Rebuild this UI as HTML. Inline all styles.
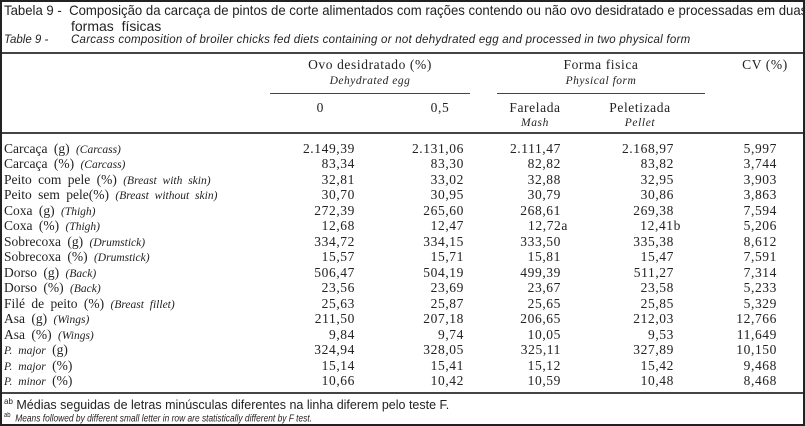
<!DOCTYPE html>
<html><head><meta charset="utf-8">
<style>
html,body{margin:0;padding:0;}
body{width:805px;height:426px;background:#fff;position:relative;overflow:hidden;}
.frame{position:absolute;left:0;top:0;width:801px;height:422px;border:2px solid #222;}
.t{position:absolute;white-space:nowrap;color:#222;}
.sans{font-family:"Liberation Sans",sans-serif;}
.ser{font-family:"Liberation Serif",serif;}
.rule{position:absolute;background:#444;}
.lab{font-family:"Liberation Serif",serif;font-size:13.5px;left:4px;word-spacing:3px;}
.lab i{font-size:11.5px;}
.num{font-family:"Liberation Serif",serif;font-size:13.5px;letter-spacing:0.6px;text-align:right;}
</style></head>
<body>
<div class="frame"></div>
<div class="t sans" style="left:4px;top:2px;font-size:14px;transform:scaleX(0.94);transform-origin:left">Tabela 9 -&nbsp; Composição da carcaça de pintos de corte alimentados com rações contendo ou não ovo desidratado e processadas em duas</div>
<div class="t sans" style="left:71px;top:18px;font-size:14px">formas&nbsp; físicas</div>
<div class="t sans" style="left:4px;top:34px;font-size:11.5px;font-style:italic">Table 9 -</div>
<div class="t sans" style="left:71px;top:34px;font-size:11.5px;font-style:italic;letter-spacing:0.25px">Carcass composition of broiler chicks fed diets containing or not dehydrated egg and processed in two physical form</div>
<div class="rule" style="left:2px;top:52px;width:801px;height:2px"></div>
<div class="t ser" style="left:270px;width:200px;text-align:center;top:57px;font-size:13.5px;letter-spacing:0.6px">Ovo desidratado (%)</div>
<div class="t ser" style="left:270px;width:200px;text-align:center;top:75px;font-size:11.5px;font-style:italic;letter-spacing:0.5px">Dehydrated egg</div>
<div class="rule" style="left:270px;top:93px;width:200px;height:1px"></div>
<div class="t ser" style="left:497px;width:208px;text-align:center;top:57px;font-size:13.5px;letter-spacing:0.6px">Forma fisica</div>
<div class="t ser" style="left:497px;width:208px;text-align:center;top:75px;font-size:11.5px;font-style:italic;letter-spacing:0.5px">Physical form</div>
<div class="rule" style="left:497px;top:93px;width:208px;height:1px"></div>
<div class="t ser" style="left:730px;width:70px;text-align:center;top:57px;font-size:13.5px;letter-spacing:0.6px">CV (%)</div>
<div class="t ser" style="left:290px;width:60px;text-align:center;top:100px;font-size:13.5px">0</div>
<div class="t ser" style="left:410px;width:60px;text-align:center;top:100px;font-size:13.5px;letter-spacing:0.6px">0,5</div>
<div class="t ser" style="left:495px;width:80px;text-align:center;top:100px;font-size:13.5px;letter-spacing:0.6px">Farelada</div>
<div class="t ser" style="left:495px;width:80px;text-align:center;top:117px;font-size:11.5px;font-style:italic;letter-spacing:0.6px">Mash</div>
<div class="t ser" style="left:595px;width:90px;text-align:center;top:100px;font-size:13.5px;letter-spacing:0.6px">Peletizada</div>
<div class="t ser" style="left:595px;width:90px;text-align:center;top:117px;font-size:11.5px;font-style:italic;letter-spacing:0.6px">Pellet</div>
<div class="rule" style="left:2px;top:132px;width:801px;height:2px"></div>
<div id="rows"></div>
<div class="rule" style="left:2px;top:392px;width:801px;height:2px"></div>
<div class="t sans" style="left:4px;top:397px;font-size:12.5px"><sup style="font-size:8px">ab</sup> Médias seguidas de letras minúsculas diferentes na linha diferem pelo teste F.</div>
<div class="t sans" style="left:4px;top:412px;font-size:10px;font-style:italic;transform:scaleX(0.84);transform-origin:left"><sup style="font-size:7px;font-style:normal">ab</sup>&nbsp; Means followed by different small letter in row are statistically different by F test.</div>
<script>
var labels=['Carcaça (g) <i>(Carcass)</i>','Carcaça (%) <i>(Carcass)</i>','Peito com pele (%) <i>(Breast with skin)</i>','Peito sem pele(%) <i>(Breast without skin)</i>','Coxa (g) <i>(Thigh)</i>','Coxa (%) <i>(Thigh)</i>','Sobrecoxa (g) <i>(Drumstick)</i>','Sobrecoxa (%) <i>(Drumstick)</i>','Dorso (g) <i>(Back)</i>','Dorso (%) <i>(Back)</i>','Filé de peito (%) <i>(Breast fillet)</i>','Asa (g) <i>(Wings)</i>','Asa (%) <i>(Wings)</i>','<i>P. major</i> (g)','<i>P. major</i> (%)','<i>P. minor</i> (%)'];
var egg0=['2.149,39','83,34','32,81','30,70','272,39','12,68','334,72','15,57','506,47','23,56','25,63','211,50','9,84','324,94','15,14','10,66'];
var egg05=['2.131,06','83,30','33,02','30,95','265,60','12,47','334,15','15,71','504,19','23,69','25,87','207,18','9,74','328,05','15,41','10,42'];
var mash=['2.111,47','82,82','32,88','30,79','268,61','12,72a','333,50','15,81','499,39','23,67','25,65','206,65','10,05','325,11','15,12','10,59'];
var pellet=['2.168,97','83,82','32,95','30,86','269,38','12,41b','335,38','15,47','511,27','23,58','25,85','212,03','9,53','327,89','15,42','10,48'];
var cv=['5,997','3,744','3,903','3,863','7,594','5,206','8,612','7,591','7,314','5,233','5,329','12,766','11,649','10,150','9,468','8,468'];
var cols=[[egg0,355],[egg05,464],[mash,561],[pellet,674],[cv,777]];
var root=document.getElementById('rows');
for(var i=0;i<labels.length;i++){
  var y=141+i*15.47;
  var l=document.createElement('div');
  l.className='t lab';
  l.style.top=y+'px';
  l.innerHTML=labels[i];
  
  
  root.appendChild(l);
  for(var c=0;c<cols.length;c++){
    var v=cols[c][0][i];
    var suf=/[ab]$/.test(v);
    var d=document.createElement('div');
    d.className='t num';
    d.style.top=y+'px';
    d.style.left=(cols[c][1]-120+(suf?7:0))+'px';
    d.style.width='120px';
    d.textContent=v;
    
    
    root.appendChild(d);
  }
}
</script>
</body></html>
